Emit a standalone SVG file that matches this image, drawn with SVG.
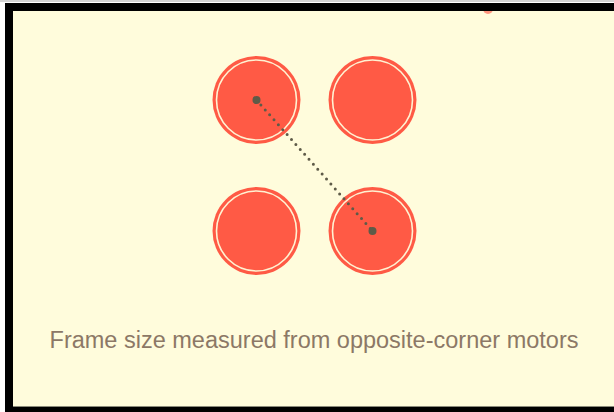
<svg xmlns="http://www.w3.org/2000/svg" width="614" height="412" viewBox="0 0 614 412">
<style>
.motor-outer{fill:#ff5a45}
.motor-ring{fill:none;stroke:#fff2d2;stroke-width:1.6}
.dot{fill:#5e5b48}
.measure{fill:none;stroke:#5e5b48;stroke-width:3;stroke-linecap:round;stroke-dasharray:0 6.6}
.caption{font-family:"Liberation Sans",Arial,sans-serif;font-size:23.5px;fill:#8c7866}
</style>
<rect x="0" y="0" width="614" height="412" fill="#ffffff"/>
<rect x="0" y="0" width="614" height="2" fill="#d4d4d4"/>
<rect x="5" y="3" width="620" height="412" fill="#000000"/>
<rect x="13" y="11" width="612" height="396" fill="#fffcdc"/>
<rect x="13" y="406" width="612" height="1" fill="#8a8a7a"/>
<circle cx="488" cy="9" r="5" fill="#ff7a66" opacity="0.8"/>
<rect x="5" y="3" width="620" height="8" fill="#000000"/>
<g id="motor-tl"><circle class="motor-outer" cx="256.5" cy="100" r="44"/><circle class="motor-ring" cx="256.5" cy="100" r="40"/></g>
<g id="motor-tr"><circle class="motor-outer" cx="372.5" cy="100" r="44"/><circle class="motor-ring" cx="372.5" cy="100" r="40"/></g>
<g id="motor-bl"><circle class="motor-outer" cx="256.5" cy="231" r="44"/><circle class="motor-ring" cx="256.5" cy="231" r="40"/></g>
<g id="motor-br"><circle class="motor-outer" cx="372.5" cy="231" r="44"/><circle class="motor-ring" cx="372.5" cy="231" r="40"/></g>
<g id="connectors">
<line class="measure" x1="256.5" y1="100" x2="372.5" y2="231"/>
<circle class="dot" cx="256.5" cy="100" r="4"/>
<circle class="dot" cx="372.5" cy="231" r="4"/>
</g>
<text class="caption" x="314" y="347.5" text-anchor="middle">Frame size measured from opposite-corner motors</text>
</svg>
